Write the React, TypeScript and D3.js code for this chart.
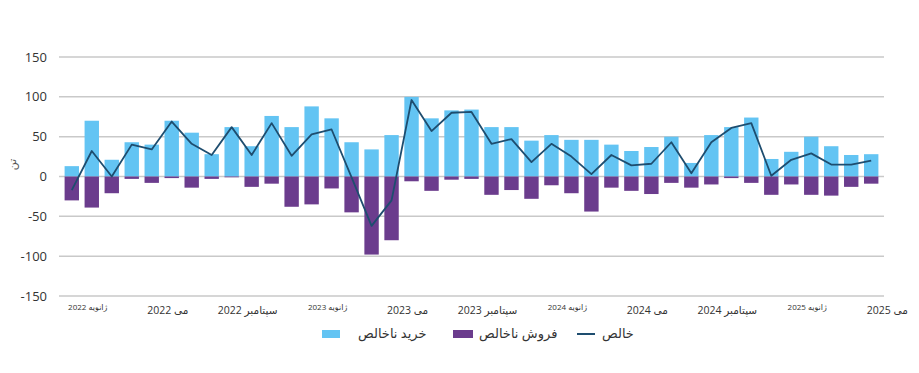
import React from "react";
import * as d3 from "d3";

// monthly categories, Jan 2022 .. May 2025
const months = d3.timeMonth.range(new Date(2022, 0, 1), new Date(2025, 5, 1));

const grossBuy = [13, 70, 21, 43, 40, 70, 55, 28, 62, 38, 76, 62, 88, 73, 43, 34, 52, 100, 73, 83, 84,
  62, 62, 45, 52, 46, 46, 40, 32, 37, 50, 17, 52, 62, 74, 22, 31, 50, 38, 27, 28];
const grossSell = [-30, -39, -21, -3, -8, -2, -14, -3, -1, -13, -9, -38, -35, -15, -45, -98, -80, -6, -18,
  -4, -3, -23, -17, -28, -11, -21, -44, -14, -18, -22, -8, -14, -10, -2, -8, -23, -10, -23, -24, -13, -9];
const net = [-17, 32, 0, 40, 34, 69, 41, 27, 62, 27, 67, 26, 53, 59, -1, -62, -30, 96, 57, 80, 81, 41,
  47, 18, 41, 25, 3, 27, 14, 16, 43, 4, 43, 61, 67, 1, 21, 29, 15, 15, 20];

const yTicks = [-150, -100, -50, 0, 50, 100, 150];
const tickIndex = [0, 4, 8, 12, 16, 20, 24, 28, 32, 36, 40];
const tickLabels = ["ژانویه 2022", "می 2022", "سپتامبر 2022", "ژانویه 2023", "می 2023", "سپتامبر 2023",
  "ژانویه 2024", "می 2024", "سپتامبر 2024", "ژانویه 2025", "می 2025"];
const legendLabels = ["خرید ناخالص", "فروش ناخالص", "خالص"];

const BUY = "#63c4f3";
const SELL = "#6b3c8d";
const NET = "#1e4d6f";
const FONT = '"Open Sans", "DejaVu Sans", sans-serif';

export default function App() {
  const width = 919;
  const height = 373;
  const left = 59, right = 884;

  const x = d3.scaleBand<number>().domain(d3.range(months.length)).range([left, right]).padding(0.28);
  const y = d3.scaleLinear().domain([-150, 150]).range([296, 57]);
  const cx = (i: number) => (x(i) as number) + x.bandwidth() / 2;

  const line = d3.line<number>().x((_, i) => cx(i)).y((d) => y(d));

  return (
    <svg width={width} height={height} style={{ position: "absolute", left: 0, top: 0, background: "#fff" }}
      fontFamily={FONT}>
      {yTicks.map((t) => (
        <g key={t}>
          <line x1={left} x2={right} y1={y(t)} y2={y(t)} stroke="#c9c9c9" strokeWidth={1.5} />
          <text x={47} y={y(t)} dy="0.35em" textAnchor="end" fontSize={13} fill="#333">{t}</text>
        </g>
      ))}
      <text transform={`translate(16,${y(0) - 12}) rotate(-90)`} textAnchor="middle" fontSize={11} fill="#555">تن</text>

      {grossBuy.map((v, i) => (
        <rect key={"b" + i} x={x(i)} y={y(v)} width={x.bandwidth()} height={y(0) - y(v)} fill={BUY} />
      ))}
      {grossSell.map((v, i) => (
        <rect key={"s" + i} x={x(i)} y={y(0)} width={x.bandwidth()} height={y(v) - y(0)} fill={SELL} />
      ))}
      <path d={line(net) || ""} fill="none" stroke={NET} strokeWidth={1.8} strokeLinejoin="round" />

      {tickIndex.map((m, k) => {
        const small = k % 3 === 0;
        return (
          <text key={m} x={cx(m) + 16} y={small ? 310 : 314} textAnchor="middle" direction="rtl"
            fontSize={small ? 8 : 10.5} fill="#333">{tickLabels[k]}</text>
        );
      })}

      <g fontSize={13} fill="#333">
        <rect x={322} y={330} width={18} height={8} fill={BUY} />
        <text x={358} y={338}>{legendLabels[0]}</text>
        <rect x={453} y={330} width={20} height={8} fill={SELL} />
        <text x={479} y={338}>{legendLabels[1]}</text>
        <line x1={577} x2={595} y1={334} y2={334} stroke={NET} strokeWidth={2} />
        <text x={602} y={338}>{legendLabels[2]}</text>
      </g>
    </svg>
  );
}
